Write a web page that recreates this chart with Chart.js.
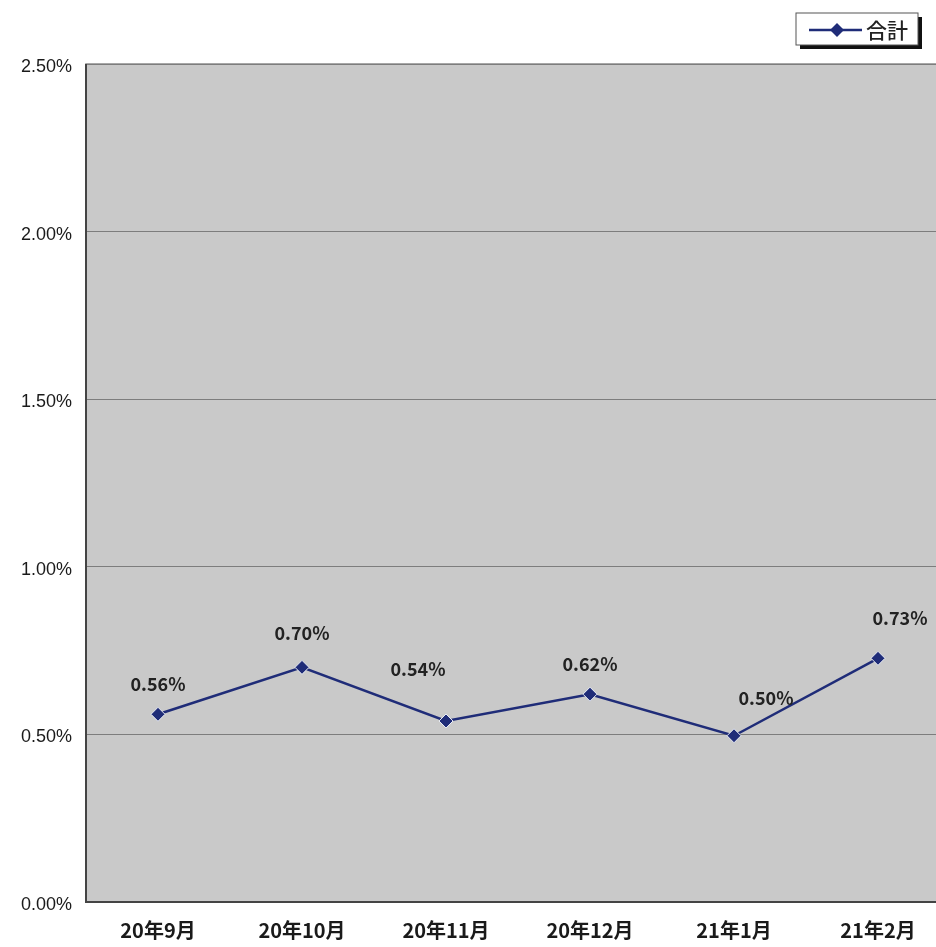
<!DOCTYPE html>
<html>
<head>
<meta charset="utf-8">
<script src="https://cdn.jsdelivr.net/npm/chart.js@4/dist/chart.umd.min.js"></script>
<style>
  html, body { margin: 0; padding: 0; background: #fff; overflow: hidden; }
  #wrap { width: 958px; height: 947px; position: relative; }
</style>
</head>
<body>
<div id="wrap"><canvas id="rateChart" width="958" height="947"></canvas></div>
<script>
// data
const months = ["20年9月", "20年10月", "20年11月", "20年12月", "21年1月", "21年2月"];
const totalRate = [0.56, 0.70, 0.54, 0.62, 0.496, 0.727];
const yTicks = [0, 0.5, 1.0, 1.5, 2.0, 2.5];
const seriesName = "合計";

const lineColor = "#1f2c78";
const jpFont = '"Noto Sans CJK JP", "Noto Sans", sans-serif';

// gray plot background + frame
const plotBg = {
  id: 'plotBg',
  beforeDraw(chart) {
    const { ctx, chartArea: a } = chart;
    ctx.save();
    ctx.fillStyle = '#c9c9c9';
    ctx.fillRect(a.left, a.top, a.right - a.left, a.bottom - a.top);
    ctx.strokeStyle = '#8a8a8a';
    ctx.lineWidth = 1.5;
    ctx.strokeRect(a.left, a.top, a.right - a.left, a.bottom - a.top);
    ctx.restore();
  },
  afterDatasetsDraw(chart) {
    const { ctx, chartArea: a } = chart;
    ctx.save();
    ctx.strokeStyle = '#444';
    ctx.lineWidth = 2;
    ctx.beginPath();
    ctx.moveTo(a.left, a.top);
    ctx.lineTo(a.left, a.bottom);
    ctx.lineTo(a.right, a.bottom);
    ctx.stroke();
    ctx.restore();
  }
};

// value labels above points
const valueLabels = {
  id: 'valueLabels',
  afterDatasetsDraw(chart) {
    const ctx = chart.ctx;
    const meta = chart.getDatasetMeta(0);
    const shift = [[0, -30], [0, -34], [-28, -52], [0, -30], [32, -38], [22, -40]];
    ctx.save();
    ctx.font = `bold 18px ${jpFont}`;
    ctx.fillStyle = '#222';
    ctx.textAlign = 'center';
    ctx.textBaseline = 'middle';
    meta.data.forEach((pt, i) => {
      const v = chart.data.datasets[0].data[i];
      ctx.fillText(v.toFixed(2) + '%', pt.x + shift[i][0], pt.y + shift[i][1]);
    });
    ctx.restore();
  }
};

// legend box top right
const legendBox = {
  id: 'legendBox',
  afterDraw(chart) {
    const ctx = chart.ctx;
    const x = 796, y = 13, w = 122, h = 32;
    ctx.save();
    ctx.fillStyle = '#111';
    ctx.fillRect(x + 4, y + 4, w, h);
    ctx.fillStyle = '#fff';
    ctx.fillRect(x, y, w, h);
    ctx.strokeStyle = '#555';
    ctx.lineWidth = 1;
    ctx.strokeRect(x, y, w, h);
    ctx.strokeStyle = lineColor;
    ctx.lineWidth = 2.5;
    ctx.beginPath();
    ctx.moveTo(x + 13, y + 17);
    ctx.lineTo(x + 66, y + 17);
    ctx.stroke();
    ctx.fillStyle = lineColor;
    ctx.beginPath();
    ctx.moveTo(x + 41, y + 10);
    ctx.lineTo(x + 48, y + 17);
    ctx.lineTo(x + 41, y + 24);
    ctx.lineTo(x + 34, y + 17);
    ctx.closePath();
    ctx.fill();
    ctx.font = `500 21px ${jpFont}`;
    ctx.fillStyle = '#222';
    ctx.textBaseline = 'middle';
    ctx.fillText(seriesName, x + 70, y + 17);
    ctx.restore();
  }
};

const ctxRate = document.getElementById("rateChart").getContext("2d");
new Chart(ctxRate, {
  type: "line",
  data: {
    labels: months,
    datasets: [{
      label: seriesName,
      data: totalRate,
      borderColor: lineColor,
      borderWidth: 2.5,
      pointStyle: 'rectRot',
      pointRadius: 7,
      pointBackgroundColor: lineColor,
      pointBorderColor: '#e8ecf5',
      pointBorderWidth: 1,
      tension: 0
    }]
  },
  options: {
    responsive: false,
    animation: false,
    layout: { padding: { top: 64, right: 3, left: 0, bottom: 0 } },
    plugins: {
      legend: { display: false },
      tooltip: { enabled: false }
    },
    scales: {
      x: {
        offset: true,
        grid: { display: false },
        border: { display: false },
        ticks: {
          color: '#1a1a1a',
          font: { family: jpFont, size: 20, weight: 'bold' },
          padding: 8
        },
        afterFit(scale) { scale.height = 45; }
      },
      y: {
        min: 0,
        max: 2.5,
        afterBuildTicks(scale) { scale.ticks = yTicks.map(v => ({ value: v })); },
        grid: { color: '#7d7d7d', lineWidth: 1, drawTicks: false },
        border: { display: false },
        ticks: {
          color: '#1a1a1a',
          font: { family: '"Liberation Sans", Arial, sans-serif', size: 18 },
          padding: 14,
          labelOffset: 3,
          callback: v => v.toFixed(2) + '%'
        },
        afterFit(scale) { scale.width = 86; }
      }
    }
  },
  plugins: [plotBg, valueLabels, legendBox]
});
</script>
</body>
</html>
